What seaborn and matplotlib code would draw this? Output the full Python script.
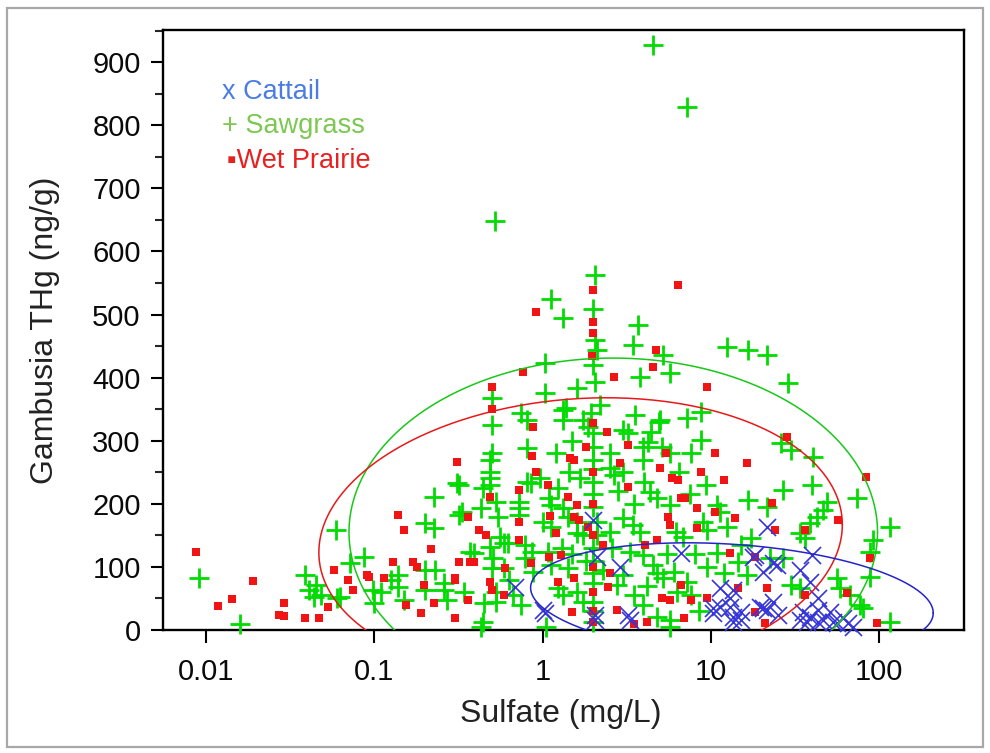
import numpy as np
import matplotlib
matplotlib.use("Agg")
import matplotlib.pyplot as plt
import matplotlib.ticker as mticker
from matplotlib.patches import Rectangle
import seaborn as sns

# ---------------- data ----------------
sawgrass_sulfate = [
    4.56, 7.2, 0.52, 2.06, 1.12, 1.33, 2.0, 3.7, 3.46, 2.06, 2.1, 1.04, 5.2, 5.75, 3.8, 2.06, 1.61, 1.04,
    0.5, 0.5, 12.5, 16.7, 21.6, 28.8, 8.7, 7.25, 4.9, 3.56, 2.2, 1.33, 1.33, 1.75, 1.93, 0.74, 0.81,
    26, 30, 40.5, 0.5, 0.81, 1.37, 1.85, 3.0, 3.2, 4.4, 4.25, 3.97, 5.15, 5.75, 7.6, 8.7, 5.0, 2.0, 2.0,
    0.49, 0.49, 0.49, 0.49, 0.32, 0.85, 0.72, 0.72, 0.72, 0.44, 0.43, 0.32, 0.53, 0.54, 0.59, 0.39,
    0.79, 0.79, 0.51, 0.5, 0.59, 0.34, 0.53, 0.53, 0.44, 0.63, 0.67, 0.74, 0.87, 0.88, 1.07, 1.12,
    1.41, 1.23, 1.33, 1.61, 1.75, 0.81, 0.97, 1.09, 1.12, 1.23, 1.33, 1.41, 1.01, 1.12, 1.61, 1.61,
    1.75, 1.43, 1.68, 3.97, 2.53, 2.64, 9.3, 4.37, 4.8, 5.75, 10.9, 11.4, 3.02, 3.46, 3.8, 6.2, 6.8,
    9.0, 9.5, 12.5, 2.12, 2.12, 2.53, 10.9, 3.33, 3.97, 4.55, 4.8, 5.2, 3.02, 2.78, 6.0, 7.25, 7.6,
    3.97, 4.8, 5.75, 27, 40, 16.7, 21.6, 74, 116, 49, 46.5, 42.8, 38.8, 34, 36.4, 15, 17.2, 22.6, 27,
    92, 88, 56, 58.5, 67, 77, 80, 30, 34, 16.5, 14.5, 116, 88,
    0.0091, 0.016, 0.039, 0.041, 0.045, 0.048, 0.044, 0.059, 0.072, 0.087, 0.06, 0.1, 0.099, 0.2,
    0.225, 0.31, 0.33, 0.125, 0.138, 0.15, 0.2, 0.23, 0.26, 0.43, 0.45, 0.37, 0.49, 0.56, 0.62, 0.225,
    0.138, 0.11, 0.063, 0.2, 0.27, 0.26,
    2.0, 2.0, 2.0, 2.0, 2.0, 2.0, 2.0, 2.0, 2.0, 2.0, 2.0, 2.0, 2.0,
    1.2, 1.5, 2.5, 3.0, 2.8, 3.5, 4.0, 6.5, 7.5, 8.0, 9.5, 12.0, 1.3, 1.5, 1.8, 2.3, 2.6, 3.5, 4.2,
    5.5, 6.3, 8.5, 5.75, 1.05,
]
sawgrass_thg = [
    927, 829, 648, 563, 524, 494, 508, 483, 452, 460, 444, 423, 436, 407, 401, 393, 383, 376,
    368, 325, 448, 444, 436, 391, 345, 336, 330, 341, 357, 349, 333, 333, 344, 344, 333,
    296, 285, 274, 280, 288, 352, 322, 317, 312, 314, 298, 290, 290, 280, 280, 301, 333, 312, 290,
    269, 250, 241, 230, 230, 233, 203, 193, 182, 225, 193, 182, 203, 179, 138, 122,
    135, 114, 114, 98, 98, 60, 60, 44, 13, 79, 55, 40, 124, 92, 124, 103,
    98, 66, 55, 60, 44, 235, 241, 209, 198, 225, 193, 179, 171, 163, 171, 154,
    150, 250, 241, 269, 257, 246, 230, 219, 209, 198, 198, 187, 177, 166, 155, 155, 147,
    171, 158, 163, 171, 150, 155, 122, 124, 119, 103, 90, 82, 87, 71, 92, 76, 55,
    40, 21, 16, 222, 230, 206, 195, 209, 163, 203, 190, 179, 170, 154, 146, 135, 146, 114, 114,
    143, 124, 82, 67, 55, 40, 35, 71, 67, 87, 108, 13, 84,
    82, 10, 87, 63, 71, 55, 52, 158, 106, 116, 51, 43, 63, 170,
    162, 233, 187, 79, 87, 48, 95, 95, 63, 5, 43, 124, 131, 147, 138, 211,
    68, 60, 52, 63, 48, 74,
    420, 270, 255, 235, 215, 195, 130, 110, 90, 75, 45, 30, 12,
    280, 300, 280, 250, 220, 200, 235, 250, 215, 120, 100, 90, 130, 120, 110, 95, 130, 55, 70,
    120, 60, 30, 5, 5,
]

wetprairie_sulfate = [
    2.0, 6.4, 0.91, 2.0, 2.0, 1.98, 4.7, 4.5, 2.64, 9.5, 0.77, 0.5, 0.5, 0.88, 2.0, 2.43, 3.24, 5.4,
    10.6, 16.5, 0.31, 0.87, 1.53, 1.8, 0.91, 0.49, 0.72, 0.72, 0.36, 0.42, 0.46, 0.39, 0.72, 0.32,
    0.3, 0.49, 0.6, 0.36, 0.5, 0.3, 0.59, 0.85, 1.09, 1.28, 1.23, 1.53, 1.5, 1.07, 1.41, 1.61, 1.2,
    1.53, 1.64, 1.85, 1.46, 2.9, 5.0, 5.9, 6.4, 8.7, 11.9, 3.2, 6.6, 7.0, 8.3, 10.6, 5.6, 5.75, 8.3,
    4.8, 4.08, 13, 2.46, 2.53, 6.6, 5.15, 5.75, 7.6, 9.5, 2.78, 4.2, 6.9, 23.2, 14, 83, 57, 24.2,
    36.4, 18.4, 88, 64, 36.4, 21.6, 14.5, 97, 21, 18.4, 28.5,
    0.0087, 0.0118, 0.0142, 0.019, 0.029, 0.029, 0.027, 0.039, 0.047, 0.053, 0.058, 0.07, 0.075,
    0.09, 0.093, 0.114, 0.138, 0.15, 0.216, 0.13, 0.17, 0.18, 0.154, 0.19, 0.225, 0.3, 0.37, 0.197,
    2.0, 2.0, 2.0, 2.0, 2.0, 2.0, 2.0, 3.5, 2.3, 1.1,
]
wetprairie_thg = [
    539, 547, 504, 488, 471, 434, 444, 417, 401, 385, 409, 385, 350, 322, 328, 314, 293, 280,
    280, 265, 266, 276, 269, 290, 250, 211, 222, 171, 179, 158, 150, 108, 143, 108,
    79, 76, 98, 48, 63, 19, 55, 106, 116, 119, 76, 82, 29, 230, 211, 198, 154,
    179, 174, 163, 273, 265, 257, 241, 238, 250, 238, 227, 209, 209, 193, 187, 179, 166, 162,
    143, 135, 122, 68, 90, 71, 51, 48, 48, 51, 32, 13, 19, 201, 177, 242, 174, 158,
    158, 116, 114, 59, 55, 66, 66, 11, 11, 29, 306,
    124, 38, 49, 78, 43, 22, 24, 19, 19, 36, 95, 79, 63,
    87, 84, 82, 182, 158, 128, 108, 108, 100, 40, 27, 43, 82, 108, 71,
    250, 200, 150, 100, 60, 30, 12, 10, 135, 180,
]

cattail_sulfate = [
    0.69, 1.04, 1.01, 2.1, 2.9, 6.6, 3.3, 3.2, 11.4, 13, 10.3, 2.06, 2.06, 2.0, 21.6, 40, 34, 18.4,
    24.8, 20.5, 39, 43, 51, 23.5, 20.5, 25, 15, 13.6, 35.4, 37.3, 43, 53, 61, 65, 56, 43, 39, 34,
    46.5, 17.8, 23.5, 13.6, 13, 13.6, 15, 11.4, 10.3, 19.6, 21.6, 70,
]
cattail_thg = [
    68, 27, 32, 116, 100, 122, 16, 24, 66, 51, 35, 24, 16, 174, 163, 119, 95, 119,
    103, 92, 76, 51, 29, 44, 35, 24, 29, 13, 29, 13, 13, 13, 19, 11, 11, 32, 21, 16,
    16, 116, 106, 63, 37, 21, 16, 37, 27, 37, 32, 5,
]

# density ellipses (log10 sulfate centre, THg centre, half-width in decades, half-height, tilt)
ellipse_groups = ["Sawgrass", "Wet Prairie", "Cattail"]
ellipse_center_log = [0.42, 0.226, 1.125]
ellipse_center_thg = [155, 145, 47]
ellipse_half_log = [1.57, 1.555, 1.196]
ellipse_half_thg = [276, 222, 89]
ellipse_tilt_thg = [0, 22, -20]

x_ticks = [0.01, 0.1, 1, 10, 100]
x_tick_labels = ["0.01", "0.1", "1", "10", "100"]
y_ticks = [0, 100, 200, 300, 400, 500, 600, 700, 800, 900]

# ---------------- styling ----------------
sns.set_style("ticks")
plt.rcParams["font.family"] = ["Liberation Sans", "DejaVu Sans"]

marker_colors = {"Sawgrass": "#00dc00", "Wet Prairie": "#f01414", "Cattail": "#3535d8"}
line_colors = {"Sawgrass": "#18c818", "Wet Prairie": "#e81818", "Cattail": "#2424c8"}

fig = plt.figure(figsize=(9.9, 7.53), dpi=100)
ax = fig.add_axes([163 / 990, 1 - 630 / 753, (964 - 163) / 990, 600 / 753])

sns.scatterplot(x=sawgrass_sulfate, y=sawgrass_thg, marker="+", s=210, linewidth=2.0,
                color=marker_colors["Sawgrass"], ax=ax, clip_on=False, zorder=3)
sns.scatterplot(x=wetprairie_sulfate, y=wetprairie_thg, marker="s", s=40, linewidth=0,
                color=marker_colors["Wet Prairie"], ax=ax, clip_on=False, zorder=4)
sns.scatterplot(x=cattail_sulfate, y=cattail_thg, marker="x", s=150, linewidth=1.2,
                color=marker_colors["Cattail"], ax=ax, clip_on=False, zorder=5)

t = np.linspace(0, 2 * np.pi, 400)
for g, u0, v0, a, b, c in zip(ellipse_groups, ellipse_center_log, ellipse_center_thg,
                              ellipse_half_log, ellipse_half_thg, ellipse_tilt_thg):
    u = u0 + a * np.cos(t)
    v = v0 + b * np.sin(t) + c * np.cos(t)
    ax.plot(10 ** u, v, color=line_colors[g], lw=1.1, zorder=6)

ax.set_xscale("log")
ax.set_xlim(0.00556, 319)
ax.set_ylim(0, 951)
ax.set_xticks(x_ticks)
ax.set_xticklabels(x_tick_labels)
ax.xaxis.set_minor_locator(mticker.NullLocator())
ax.set_yticks(y_ticks)
ax.yaxis.set_minor_locator(mticker.MultipleLocator(50))

for s in ax.spines.values():
    s.set_visible(True)
    s.set_linewidth(1.7)
    s.set_color("black")

ax.tick_params(axis="both", which="major", direction="out", length=9, width=1.5,
               labelsize=21, colors="black", pad=7)
ax.tick_params(axis="x", which="major", pad=11)
ax.tick_params(axis="y", which="minor", direction="out", length=6, width=1.5)
ax.tick_params(top=False, right=False, which="both")
for lab in ax.get_xticklabels() + ax.get_yticklabels():
    lab.set_color("#0a0a0a")

ax.set_xlabel("Sulfate (mg/L)", fontsize=23, color="#222222")
ax.set_ylabel("Gambusia THg (ng/g)", fontsize=23, color="#222222")
ax.xaxis.set_label_coords(0.497, -0.115)
ax.yaxis.set_label_coords(-0.128, 0.5)

# legend drawn as coloured text, as in the reference
legend_entries = [("x Cattail", "#4a7ce4", 0.897, 0.0737),
                  ("+ Sawgrass", "#7cc850", 0.840, 0.0737),
                  ("\u25aaWet Prairie", "#e82020", 0.782, 0.080)]
for txt, col, yy, xx in legend_entries:
    ax.text(xx, yy, txt, transform=ax.transAxes, color=col, fontsize=19.5,
            ha="left", va="center", family=["Liberation Sans", "DejaVu Sans"])

fig.patches.append(Rectangle((7 / 990, 1 - 747 / 753), 976 / 990, 739 / 753,
                             transform=fig.transFigure, fill=False,
                             edgecolor="#a8a8a8", linewidth=1.6))

fig.savefig("out.png", dpi=100, facecolor="white")
